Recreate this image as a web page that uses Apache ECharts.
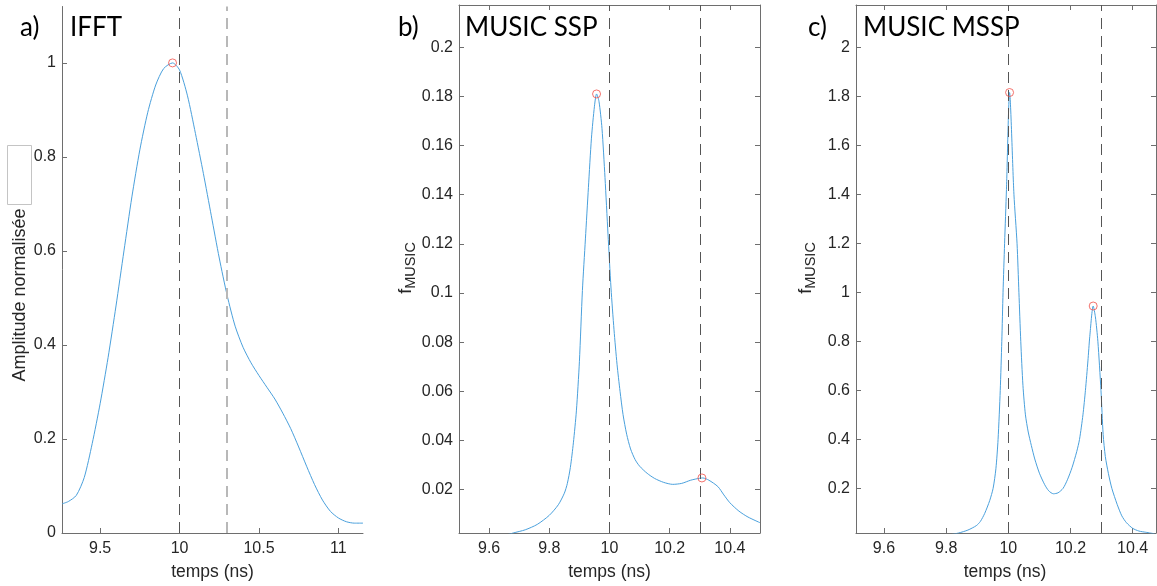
<!DOCTYPE html>
<html>
<head>
<meta charset="utf-8">
<script src="https://cdn.jsdelivr.net/npm/echarts@6/dist/echarts.min.js"></script>
<style>
  html, body { margin: 0; padding: 0; background: #fff; }
  #chart { width: 1157px; height: 586px; }
</style>
</head>
<body>
<div id="chart"></div>
<script>
// ---------- DATA ----------
// Panel a) IFFT
const timeA = [9.26, 9.3, 9.35, 9.4, 9.45, 9.5, 9.55, 9.6, 9.65, 9.7, 9.75, 9.8, 9.85, 9.9, 9.956, 10.0, 10.05, 10.1, 10.15, 10.2, 10.25, 10.3, 10.35, 10.4, 10.45, 10.5, 10.55, 10.6, 10.65, 10.7, 10.75, 10.8, 10.85, 10.9, 10.95, 11.0, 11.05, 11.1, 11.155];
const ampA  = [0.062, 0.067, 0.08, 0.118, 0.19, 0.275, 0.373, 0.483, 0.6, 0.715, 0.815, 0.895, 0.953, 0.988, 1.0, 0.985, 0.93, 0.85, 0.765, 0.675, 0.585, 0.505, 0.44, 0.395, 0.362, 0.335, 0.31, 0.285, 0.255, 0.222, 0.183, 0.142, 0.103, 0.07, 0.046, 0.032, 0.024, 0.021, 0.021];
const peaksA = [[9.956, 1.0]];

// Panel b) MUSIC SSP
const timeB = [9.65, 9.68, 9.72, 9.76, 9.8, 9.83, 9.85, 9.86, 9.87, 9.88, 9.89, 9.9, 9.91, 9.92, 9.93, 9.94, 9.95, 9.957, 9.965, 9.975, 9.985, 9.995, 10.005, 10.015, 10.025, 10.035, 10.045, 10.057, 10.07, 10.085, 10.1, 10.125, 10.15, 10.18, 10.21, 10.24, 10.27, 10.3, 10.31, 10.33, 10.36, 10.38, 10.4, 10.43, 10.46, 10.5];
const fB    = [0.0012, 0.0023, 0.0036, 0.0058, 0.0095, 0.0138, 0.0185, 0.0225, 0.029, 0.039, 0.052, 0.072, 0.101, 0.122, 0.143, 0.163, 0.176, 0.181, 0.178, 0.167, 0.147, 0.124, 0.102, 0.085, 0.071, 0.06, 0.0505, 0.0425, 0.0365, 0.0322, 0.0295, 0.0266, 0.0245, 0.0229, 0.0221, 0.0225, 0.0238, 0.0246, 0.0247, 0.0238, 0.0212, 0.0178, 0.0146, 0.0112, 0.0088, 0.0065];
const peaksB = [[9.957, 0.181], [10.307, 0.0247]];

// Panel c) MUSIC MSSP
const timeC = [9.8, 9.84, 9.87, 9.897, 9.91, 9.924, 9.94, 9.951, 9.96, 9.967, 9.974, 9.979, 9.983, 9.988, 9.994, 10.004, 10.018, 10.028, 10.034, 10.04, 10.047, 10.055, 10.064, 10.074, 10.085, 10.1, 10.117, 10.13, 10.145, 10.16, 10.176, 10.19, 10.205, 10.22, 10.229, 10.24, 10.248, 10.256, 10.262, 10.273, 10.28, 10.288, 10.298, 10.305, 10.312, 10.322, 10.333, 10.35, 10.365, 10.38, 10.4, 10.42, 10.442, 10.47];
const fC    = [0.008, 0.018, 0.03, 0.048, 0.065, 0.098, 0.15, 0.2, 0.28, 0.4, 0.6, 0.8, 1.0, 1.2, 1.42, 1.815, 1.4, 1.2, 1.0, 0.8, 0.62, 0.5, 0.43, 0.375, 0.32, 0.262, 0.215, 0.19, 0.178, 0.182, 0.2, 0.235, 0.285, 0.35, 0.4, 0.5, 0.6, 0.72, 0.82, 0.944, 0.9, 0.8, 0.6, 0.42, 0.33, 0.26, 0.2, 0.135, 0.088, 0.06, 0.037, 0.026, 0.021, 0.015];
const peaksC = [[10.004, 1.815], [10.273, 0.944]];

// Reference delays (dashed lines)
const refDelays = [10, 10.3];

// Labels
const panelLetters = ['a)', 'b)', 'c)'];
const panelTitles = ['IFFT', 'MUSIC SSP', 'MUSIC MSSP'];
const xAxisTitle = 'temps (ns)';
const yTitleA = 'Amplitude normalisée';
const yTitleMusic = ['f', 'MUSIC'];

// ---------- CHART ----------
const FONT = "'Liberation Sans', Arial, Helvetica, sans-serif";
const TFONT = "Lato, 'Open Sans', sans-serif";
const AXC = '#6e6e6e';
const LBL = '#262626';
const LINEC = '#4aa0dc';

function zip(xs, ys) { return xs.map((x, i) => [x, ys[i]]); }

function xAx(grid, min, max, split, opts) {
  return Object.assign({
    type: 'value', gridIndex: grid, min: min, max: max, splitNumber: split,
    axisLine: { show: true, onZero: false, lineStyle: { color: AXC, width: 1 } },
    axisTick: { show: true, inside: true, length: 5, lineStyle: { color: AXC } },
    axisLabel: { show: true, margin: 8, fontSize: 16, color: LBL, fontFamily: FONT, showMinLabel: false, showMaxLabel: false },
    splitLine: { show: false }
  }, opts || {});
}
function yAx(grid, min, max, split, interval, opts, showMin) {
  const o = {
    type: 'value', gridIndex: grid, min: min, max: max, splitNumber: split,
    axisLine: { show: true, onZero: false, lineStyle: { color: AXC, width: 1 } },
    axisTick: { show: true, inside: true, length: 5, lineStyle: { color: AXC } },
    axisLabel: { show: true, margin: 6, fontSize: 16, color: LBL, fontFamily: FONT, showMinLabel: !!showMin, showMaxLabel: false },
    splitLine: { show: false }
  };
  if (interval) o.interval = interval;
  return Object.assign(o, opts || {});
}

function refLine(colorList, widthList, dashList) {
  return {
    silent: true, symbol: 'none', label: { show: false },
    data: refDelays.map((v, i) => ({
      xAxis: v,
      lineStyle: { color: colorList[i], width: widthList[i], type: dashList[i] }
    }))
  };
}

function peakSeries(xi, yi, data) {
  return {
    type: 'scatter', xAxisIndex: xi, yAxisIndex: yi, data: data,
    symbol: 'circle', symbolSize: 8, silent: true,
    itemStyle: { color: 'rgba(0,0,0,0)', borderColor: '#f0504a', borderWidth: 1 },
    z: 5
  };
}

function curve(xi, yi, xs, ys, refColors, refWidths) {
  return {
    type: 'line', xAxisIndex: xi, yAxisIndex: yi, data: zip(xs, ys),
    smooth: 0.25, showSymbol: false, clip: true, silent: true,
    lineStyle: { color: LINEC, width: 1 },
    markLine: refLine(refColors, refWidths, [[11, 7], [11, 7]])
  };
}

const chart = echarts.init(document.getElementById('chart'), null, { renderer: 'canvas' });

const titleFont = '26px ' + TFONT;
const option = {
  animation: false,
  backgroundColor: '#ffffff',
  grid: [
    { left: 62, top: 6.5, right: 1157 - 363, bottom: 53 },
    { left: 459, top: 5, right: 1157 - 760, bottom: 53 },
    { left: 856, top: 5, right: 1, bottom: 53 }
  ],
  xAxis: [
    xAx(0, 9.26, 11.155, 4),
    xAx(1, 9.5, 10.5, 5),
    xAx(1, 9.5, 10.5, 5, { position: 'top', axisLabel: { show: false } }),
    xAx(2, 9.51, 10.475, 5),
    xAx(2, 9.51, 10.475, 5, { position: 'top', axisLabel: { show: false } })
  ],
  yAxis: [
    yAx(0, 0, 1.12, 6, 0.2, null, true),
    yAx(1, 0.0023, 0.2172, 10),
    yAx(1, 0.0023, 0.2172, 10, null, { position: 'right', axisLabel: { show: false } }),
    yAx(2, 0.018, 2.172, 10),
    yAx(2, 0.018, 2.172, 10, null, { position: 'right', axisLabel: { show: false } })
  ],
  series: [
    curve(0, 0, timeA, ampA, ['#555555', '#b8b8b8'], [1, 2]),
    peakSeries(0, 0, peaksA),
    curve(1, 1, timeB, fB, ['#555555', '#555555'], [1, 1]),
    peakSeries(1, 1, peaksB),
    curve(3, 3, timeC, fC, ['#555555', '#555555'], [1, 1]),
    peakSeries(3, 3, peaksC)
  ],
  graphic: [
    // panel letters & titles
    { type: 'text', left: 20, top: 15, style: { text: panelLetters[0], font: titleFont, fill: '#000' } },
    { type: 'text', left: 70, top: 15, style: { text: panelTitles[0], font: titleFont, fill: '#000' } },
    { type: 'text', left: 398, top: 15, style: { text: panelLetters[1], font: titleFont, fill: '#000' } },
    { type: 'text', left: 465, top: 15, style: { text: panelTitles[1], font: titleFont, fill: '#000' } },
    { type: 'text', left: 808, top: 15, style: { text: panelLetters[2], font: titleFont, fill: '#000' } },
    { type: 'text', left: 863, top: 15, style: { text: panelTitles[2], font: titleFont, fill: '#000' } },
    // x axis titles
    { type: 'text', x: 212.5, y: 572, style: { text: xAxisTitle, font: '17.5px ' + FONT, fill: LBL, align: 'center', verticalAlign: 'middle' } },
    { type: 'text', x: 609.5, y: 572, style: { text: xAxisTitle, font: '17.5px ' + FONT, fill: LBL, align: 'center', verticalAlign: 'middle' } },
    { type: 'text', x: 1005, y: 572, style: { text: xAxisTitle, font: '17.5px ' + FONT, fill: LBL, align: 'center', verticalAlign: 'middle' } },
    // y axis titles
    { type: 'text', x: 20, y: 295, rotation: Math.PI / 2, style: { text: yTitleA, font: '18px ' + FONT, fill: LBL, align: 'center', verticalAlign: 'middle' } },
    { type: 'text', x: 406, y: 268, rotation: Math.PI / 2,
      style: { text: '{f|' + yTitleMusic[0] + '}{s|' + yTitleMusic[1] + '}', align: 'center', verticalAlign: 'middle',
        rich: { f: { fontSize: 18, fontFamily: FONT, fill: LBL, color: LBL }, s: { fontSize: 14.5, fontFamily: FONT, color: LBL, fill: LBL, padding: [10, 0, 0, 0] } } } },
    { type: 'text', x: 806, y: 268, rotation: Math.PI / 2,
      style: { text: '{f|' + yTitleMusic[0] + '}{s|' + yTitleMusic[1] + '}', align: 'center', verticalAlign: 'middle',
        rich: { f: { fontSize: 18, fontFamily: FONT, fill: LBL, color: LBL }, s: { fontSize: 14.5, fontFamily: FONT, color: LBL, fill: LBL, padding: [10, 0, 0, 0] } } } },
    // empty box in panel a
    { type: 'rect', shape: { x: 7.5, y: 145.5, width: 24, height: 59 }, style: { fill: '#ffffff', stroke: '#c4c4c4', lineWidth: 1 } }
  ]
};
chart.setOption(option);
</script>
</body>
</html>
